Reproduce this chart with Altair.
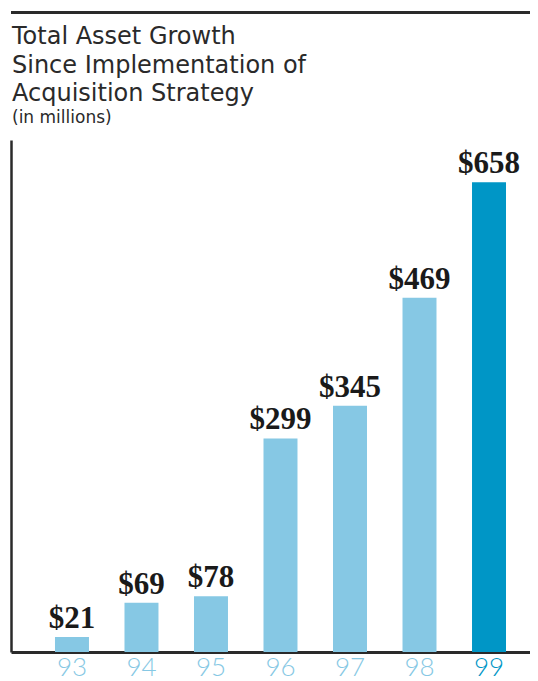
import altair as alt
import pandas as pd

years = ["93", "94", "95", "96", "97", "98", "99"]
labels = ["$21", "$69", "$78", "$299", "$345", "$469", "$658"]
bar_heights = [21, 69, 78, 299, 345, 496, 658]
highlight = ["no", "no", "no", "no", "no", "no", "yes"]

title_lines = ["Total Asset Growth", "Since Implementation of", "Acquisition Strategy"]
subtitle = "(in millions)"

df = pd.DataFrame({"year": years, "height": bar_heights, "label": labels, "hl": highlight})

LIGHT = "#86C8E4"
DARK = "#0096C6"
INK = "#2a2a2a"
W = 519

x = alt.X("year:N", sort=years,
          scale=alt.Scale(paddingInner=0.511, paddingOuter=0.489, align=0.647),
          axis=alt.Axis(title=None, labelAngle=0, ticks=False, domainColor=INK, domainWidth=3,
                        labelFont="Lato", labelFontWeight=300, labelFontSize=26, labelPadding=2,
                        labelBaseline="top",
                        labelColor={"condition": {"test": "datum.value == '99'", "value": DARK}, "value": LIGHT}))
y = alt.Y("height:Q", scale=alt.Scale(domain=[0, 717], nice=False, zero=True),
          axis=alt.Axis(title=None, labels=False, ticks=False, grid=False, domainColor=INK, domainWidth=2.5))

bars = alt.Chart(df).mark_bar().encode(
    x=x, y=y,
    color=alt.Color("hl:N", scale=alt.Scale(domain=["no", "yes"], range=[LIGHT, DARK]), legend=None),
)

text = alt.Chart(df).mark_text(font="Liberation Serif", fontWeight="bold", fontSize=31,
                               color="#1a1a1a", baseline="alphabetic", dy=-9).encode(
    x=alt.X("year:N", sort=years), y="height:Q", text="label:N")

tdf = pd.DataFrame({"t": title_lines, "yy": [-96, -67, -39]})
titles = alt.Chart(tdf).mark_text(font="DejaVu Sans", fontSize=24, color=INK, align="left",
                                  baseline="alphabetic").encode(
    x=alt.value(1), y=alt.Y("yy:Q", scale=None), text="t:N")

sub = alt.Chart(pd.DataFrame({"t": [subtitle]})).mark_text(
    font="DejaVu Sans", fontSize=17, color=INK, align="left", baseline="alphabetic").encode(
    x=alt.value(1), y=alt.value(-17), text="t:N")

toprule = alt.Chart(pd.DataFrame({"a": [0]})).mark_rule(color=INK, strokeWidth=3).encode(
    x=alt.value(0), x2=alt.value(W), y=alt.value(-127.5))

chart = alt.layer(bars, text, titles, sub, toprule).properties(
    width=W, height=512,
    padding={"left": 3, "top": 132, "right": 0, "bottom": 29},
    autosize=alt.AutoSizeParams(type="none"),
).configure_view(stroke=None)

chart.save("out.html", embed_options={"renderer": "svg", "actions": False})
